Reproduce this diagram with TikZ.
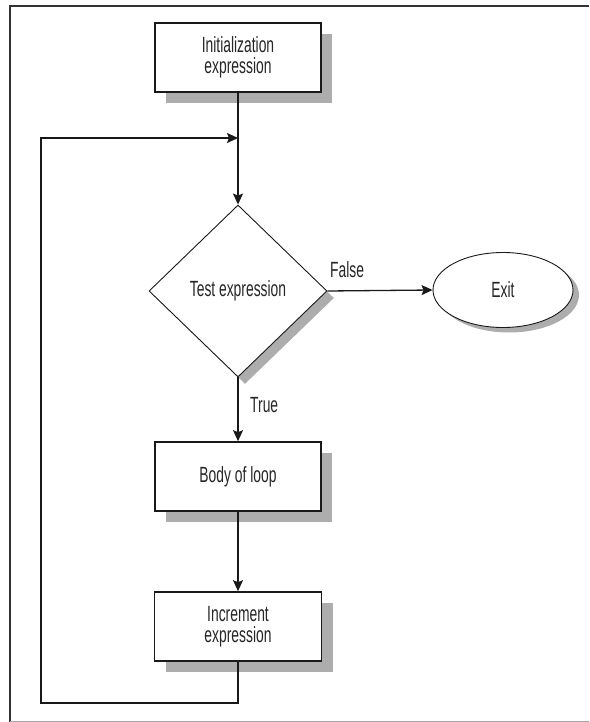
\documentclass[tikz,border=0pt]{standalone}
\usepackage{fontspec}
\setmainfont{Liberation Sans}[FakeStretch=0.63]
\usetikzlibrary{shapes.geometric,arrows.meta,shadows}
\begin{document}
\begin{tikzpicture}[x=1pt,y=-1pt,
  every node/.style={font=\fontsize{22}{21}\selectfont, text=black!85},
  procbox/.style={draw=black!90, line width=1.6pt, fill=white, minimum width=166pt, minimum height=69pt, align=center, inner sep=0pt,
    drop shadow={shadow xshift=11pt, shadow yshift=-11pt, fill=black!32, opacity=1}},
  testbox/.style={diamond, draw=black!90, line width=0.9pt, fill=white, minimum width=178pt, minimum height=172pt, inner sep=0pt,
    drop shadow={shadow xshift=7pt, shadow yshift=-7pt, fill=black!32, opacity=1}},
  exitbox/.style={ellipse, draw=black!90, line width=0.9pt, fill=white, minimum width=140pt, minimum height=75pt, inner sep=0pt,
    drop shadow={shadow xshift=6pt, shadow yshift=-5pt, fill=black!32, opacity=1}},
  flow/.style={draw=black!90, line width=1.3pt, -{Stealth[length=11pt,width=10pt,inset=2pt]}},
  lbl/.style={inner sep=0pt}
]
\useasboundingbox (0,0) rectangle (589,722);
% frame
\draw[line width=2pt, black!80] (589,6) -- (10,6) -- (10,722);
\draw[line width=1pt, black!35] (10,721) -- (589,721);

\node[procbox] (init) at (238,57.5) {Initialization\\expression};
\node[testbox] (test) at (238,291) {Test expression};
\node[exitbox] (exit) at (503,290) {Exit};
\node[procbox] (body) at (238,476.5) {Body of loop};
\node[procbox, minimum width=167pt] (incr) at (238,626.5) {Increment\\expression};

\coordinate (join) at (238,138);
\coordinate (bl) at (238,703);
\coordinate (cl) at (41,703);
\coordinate (tl) at (41,138);

\draw[flow] (init.south) -- (test.north);
\draw[flow] (test.east) -- (exit.west);
\draw[flow] (test.south) -- (body.north);
\draw[flow] (body.south) -- (incr.north);
\draw[flow] (incr.south) -- (bl) -- (cl) -- (tl) -- (join);

\node[lbl, anchor=west] (falselbl) at (330,270) {False};
\node[lbl, anchor=west] (truelbl) at (250,405) {True};
\end{tikzpicture}
\end{document}
